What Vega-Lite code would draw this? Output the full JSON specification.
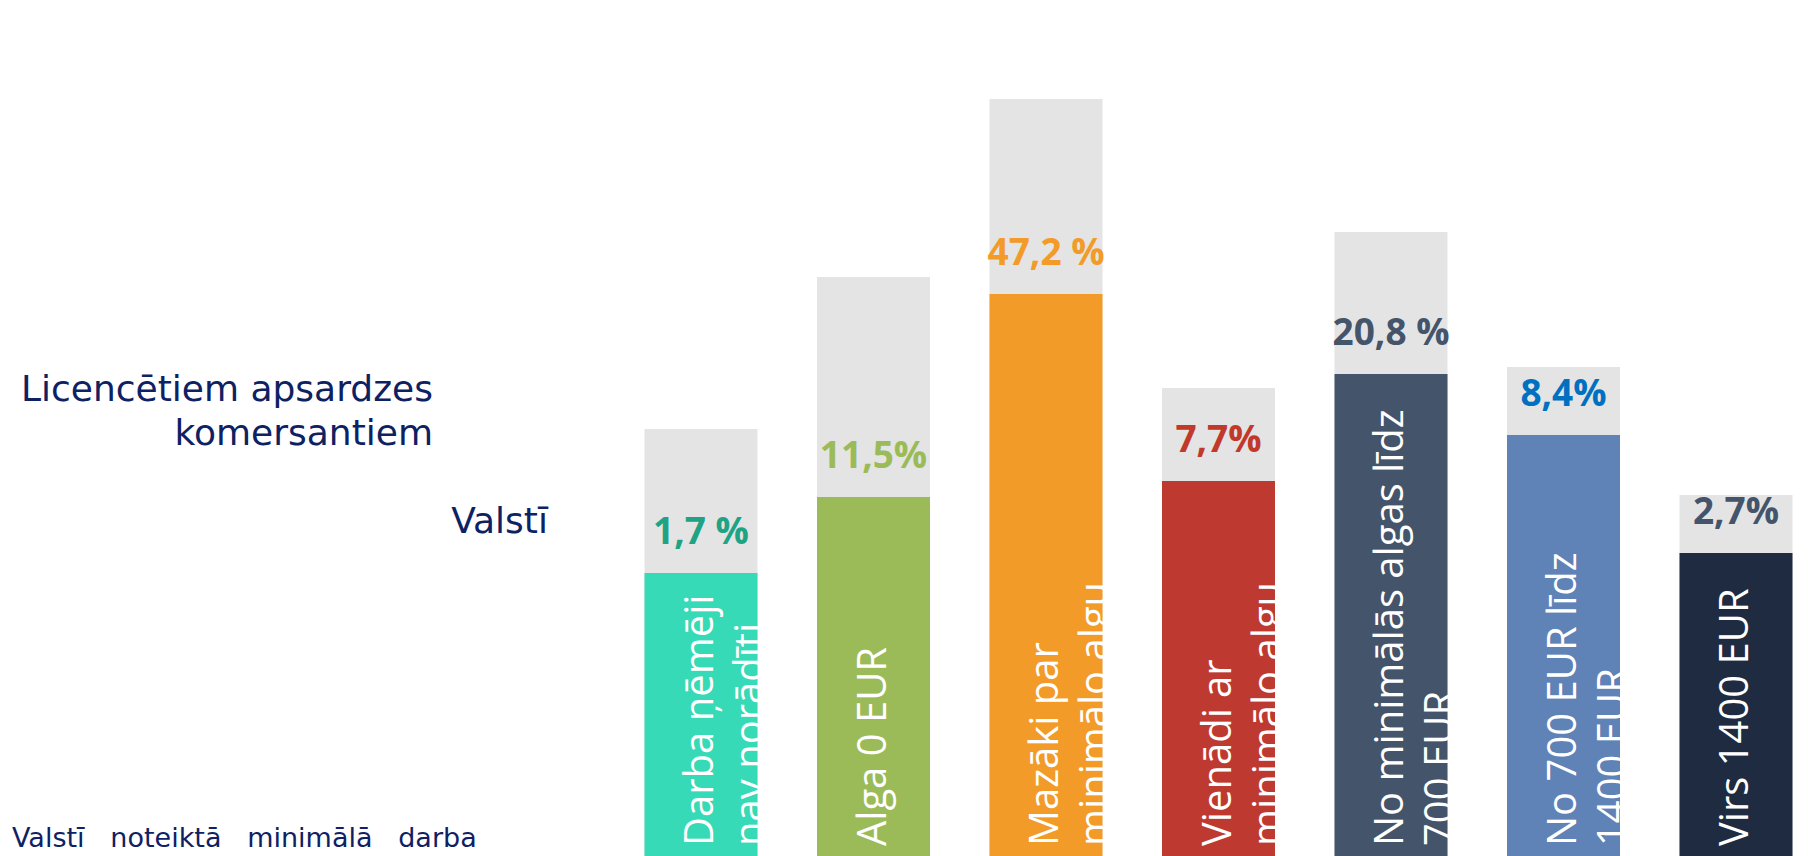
{
  "$schema": "https://vega.github.io/schema/vega-lite/v6.json",
  "width": 1808,
  "height": 856,
  "autosize": {"type": "none"},
  "padding": 0,
  "background": "white",
  "config": {"view": {"stroke": null}},
  "datasets": {
    "main": [
      {"cat": "Darba ņēmēji nav norādīti", "label": "Darba ņēmēji\nnav norādīti", "valsti": "1,7 %", "licencetiem": "0,4%", "trend": "down", "bar_level": 283, "grey_level": 427},
      {"cat": "Alga 0 EUR", "label": "Alga 0 EUR", "valsti": "11,5%", "licencetiem": "2,6%", "trend": "down", "bar_level": 359, "grey_level": 579},
      {"cat": "Mazāki par minimālo algu", "label": "Mazāki par\nminimālo algu", "valsti": "47,2 %", "licencetiem": "53,5%", "trend": "up", "bar_level": 562, "grey_level": 757},
      {"cat": "Vienādi ar minimālo algu", "label": "Vienādi ar\nminimālo algu", "valsti": "7,7%", "licencetiem": "0,8%", "trend": "down", "bar_level": 375, "grey_level": 468},
      {"cat": "No minimālās algas līdz 700 EUR", "label": "No minimālās algas līdz\n700 EUR", "valsti": "20,8 %", "licencetiem": "32,6%", "trend": "up", "bar_level": 482, "grey_level": 624},
      {"cat": "No 700 EUR līdz 1400 EUR", "label": "No 700 EUR līdz\n1400 EUR", "valsti": "8,4%", "licencetiem": "9%", "trend": "up", "bar_level": 421, "grey_level": 489},
      {"cat": "Virs 1400 EUR", "label": "Virs 1400 EUR", "valsti": "2,7%", "licencetiem": "1,1%", "trend": "down", "bar_level": 303, "grey_level": 361}
    ]
  },
  "layer": [
    {
      "data": {"name": "main"},
      "mark": {"type": "bar", "color": "#E4E4E4"},
      "encoding": {
        "x": {"field": "cat", "type": "nominal", "axis": null,
              "scale": {"domain": ["Darba ņēmēji nav norādīti", "Alga 0 EUR", "Mazāki par minimālo algu", "Vienādi ar minimālo algu", "No minimālās algas līdz 700 EUR", "No 700 EUR līdz 1400 EUR", "Virs 1400 EUR"],
                        "range": [614.75, 1822.25], "paddingInner": 0.345, "paddingOuter": 0.1725}},
        "y": {"field": "grey_level", "type": "quantitative", "axis": null, "scale": {"domain": [0, 856], "nice": false, "zero": true}}
      }
    },
    {
      "data": {"name": "main"},
      "mark": {"type": "bar"},
      "encoding": {
        "x": {"field": "cat", "type": "nominal", "axis": null},
        "y": {"field": "bar_level", "type": "quantitative", "axis": null},
        "color": {"field": "cat", "type": "nominal", "legend": null,
                  "scale": {"domain": ["Darba ņēmēji nav norādīti", "Alga 0 EUR", "Mazāki par minimālo algu", "Vienādi ar minimālo algu", "No minimālās algas līdz 700 EUR", "No 700 EUR līdz 1400 EUR", "Virs 1400 EUR"],
                            "range": ["#37DAB6", "#9BBB59", "#F29B28", "#BE3A31", "#44546A", "#5F82B7", "#1E2B40"]}}
      }
    },
    {
      "data": {"name": "main"},
      "mark": {"type": "text", "font": "Open Sans", "fontWeight": "bold", "fontSize": 37, "baseline": "middle", "align": "center", "yOffset": -40},
      "encoding": {
        "x": {"field": "cat", "type": "nominal", "axis": null},
        "y": {"field": "bar_level", "type": "quantitative", "axis": null},
        "text": {"field": "valsti"},
        "color": {
          "condition": [
            {"test": "datum.cat === 'Darba ņēmēji nav norādīti'", "value": "#20A385"},
            {"test": "datum.cat === 'Alga 0 EUR'", "value": "#9BBB59"},
            {"test": "datum.cat === 'Mazāki par minimālo algu'", "value": "#F29B28"},
            {"test": "datum.cat === 'Vienādi ar minimālo algu'", "value": "#C0392B"},
            {"test": "datum.cat === 'No 700 EUR līdz 1400 EUR'", "value": "#0070C0"}
          ],
          "value": "#44546A"
        }
      }
    },
    {
      "data": {"name": "main"},
      "mark": {"type": "text", "font": "Open Sans", "fontSize": 40, "color": "white", "angle": 270, "align": "left", "baseline": "middle", "lineBreak": "\n", "lineHeight": 50, "yOffset": -10},
      "encoding": {
        "x": {"field": "cat", "type": "nominal", "axis": null},
        "y": {"datum": 0, "type": "quantitative"},
        "text": {"field": "label"}
      }
    },
    {
      "data": {"values": [{"cat": "Darba ņēmēji nav norādīti", "text": "Licencētiem apsardzes\nkomersantiem", "level": 466}]},
      "mark": {"type": "text", "font": "DejaVu Sans", "fontSize": 36, "color": "#0E2162", "align": "right", "baseline": "middle", "lineBreak": "\n", "lineHeight": 44, "xOffset": -268},
      "encoding": {
        "x": {"field": "cat", "type": "nominal", "axis": null},
        "y": {"field": "level", "type": "quantitative"},
        "text": {"field": "text"}
      }
    },
    {
      "data": {"values": [{"cat": "Darba ņēmēji nav norādīti", "text": "Valstī", "level": 334}]},
      "mark": {"type": "text", "font": "DejaVu Sans", "fontSize": 36, "color": "#0E2162", "align": "right", "baseline": "middle", "xOffset": -153},
      "encoding": {
        "x": {"field": "cat", "type": "nominal", "axis": null},
        "y": {"field": "level", "type": "quantitative"},
        "text": {"field": "text"}
      }
    },
    {
      "data": {"values": [{"cat": "Darba ņēmēji nav norādīti", "text": "Valstī\u00a0\u00a0\u00a0noteiktā\u00a0\u00a0\u00a0minimālā\u00a0\u00a0\u00a0darba", "level": 17}]},
      "mark": {"type": "text", "font": "DejaVu Sans", "fontSize": 27, "color": "#0E2162", "align": "left", "baseline": "middle", "xOffset": -689},
      "encoding": {
        "x": {"field": "cat", "type": "nominal", "axis": null},
        "y": {"field": "level", "type": "quantitative"},
        "text": {"field": "text"}
      }
    }
  ]
}
